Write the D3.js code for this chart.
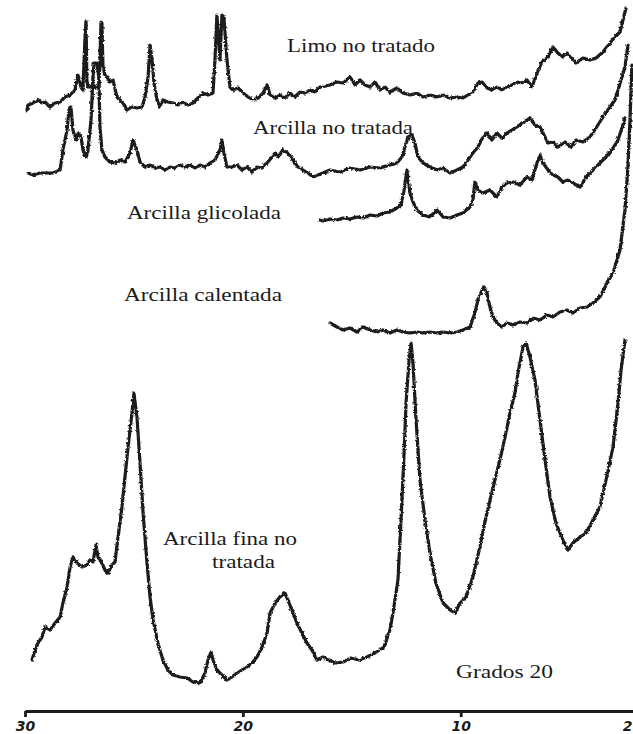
<!DOCTYPE html>
<html>
<head>
<meta charset="utf-8">
<script src="https://cdn.jsdelivr.net/npm/d3@7"></script>
<style>
  html, body { margin: 0; padding: 0; background: #fff; }
  svg { display: block; }
  .trace { fill: none; stroke: #1b1b1b; stroke-width: 3.2; stroke-linejoin: round; stroke-linecap: round; }
  .lbl { font-family: "Liberation Serif", "DejaVu Serif", serif; font-size: 19px; fill: #1b1b1b; }
  .axis path, .axis line { stroke: #1b1b1b; stroke-width: 2.8; }
  .axis text { font-family: "DejaVu Sans", sans-serif; font-weight: bold; font-style: italic; font-size: 14px; fill: #1b1b1b; }
</style>
</head>
<body>
<svg id="chart" width="633" height="734"></svg>
<script>
// 2θ (grados) vs intensidad relativa sobre la línea base de cada muestra
const limo = [
  [29.91,1],[29.86,6],[29.63,8],[29.40,11],[29.22,8],[29.08,9],[28.85,4],[28.62,8],[28.39,9],
  [28.16,14],[27.93,16],[27.71,21],[27.57,36],[27.43,24],[27.34,21],[27.25,71],[27.20,90],
  [27.16,31],[27.11,24],[27.02,24],[26.88,26],[26.74,23],[26.61,25],[26.56,51],[26.51,89],
  [26.47,88],[26.42,44],[26.33,36],[26.24,34],[26.10,29],[25.96,31],[25.78,14],[25.64,11],
  [25.50,8],[25.32,1],[25.09,4],[24.86,3],[24.63,4],[24.49,14],[24.35,34],[24.26,66],[24.17,51],
  [24.08,28],[23.94,11],[23.80,4],[23.67,11],[23.44,9],[23.21,8],[22.98,6],[22.75,9],[22.52,6],
  [22.29,8],[22.06,13],[21.83,18],[21.60,16],[21.37,18],[21.28,51],[21.19,96],[21.05,51],
  [20.96,96],[20.87,94],[20.73,51],[20.59,24],[20.45,21],[20.22,23],[19.99,18],[19.76,14],
  [19.53,11],[19.30,13],[19.07,18],[18.89,26],[18.75,16],[18.52,13],[18.30,16],[18.07,13],
  [17.84,18],[17.61,14],[17.38,19],[17.15,18],[16.92,21],[16.69,19],[16.46,24],[16.00,26],
  [15.68,29],[15.40,28],[15.08,34],[14.85,26],[14.62,31],[14.39,26],[14.16,24],[13.94,29],
  [13.70,21],[13.48,24],[13.25,19],[12.93,23],[12.65,18],[12.33,16],[12.01,18],[11.73,14],
  [11.41,16],[11.09,14],[10.81,16],[10.49,13],[10.17,14],[9.90,13],[9.67,16],[9.44,19],
  [9.21,28],[9.02,29],[8.79,23],[8.57,21],[8.34,24],[8.11,21],[7.88,24],[7.65,26],[7.42,29],
  [7.19,28],[6.96,31],[6.73,24],[6.50,38],[6.27,49],[6.04,53],[5.90,58],[5.77,64],[5.58,59],
  [5.35,54],[5.12,58],[4.89,53],[4.71,48],[4.39,53],[4.07,51],[3.79,53],[3.47,59],[3.15,68],
  [2.92,74],[2.69,79],[2.46,99],[2.41,103]
];

const arcilla = [
  [29.86,3],[29.63,1],[29.31,3],[28.99,3],[28.72,3],[28.39,6],[28.26,26],[28.07,46],[27.98,66],
  [27.89,69],[27.80,46],[27.66,36],[27.57,43],[27.43,39],[27.34,26],[27.20,19],[27.11,26],
  [26.97,56],[26.88,99],[26.83,113],[26.70,113],[26.61,99],[26.56,49],[26.47,26],[26.33,19],
  [26.10,14],[25.87,13],[25.64,16],[25.41,14],[25.18,23],[25.04,36],[24.86,26],[24.72,14],
  [24.49,9],[24.26,11],[24.03,8],[23.80,9],[23.57,6],[23.35,9],[23.12,8],[22.89,11],[22.66,9],
  [22.43,11],[22.20,8],[21.97,11],[21.74,9],[21.51,13],[21.28,16],[21.05,26],[20.96,36],
  [20.87,23],[20.73,9],[20.50,9],[20.27,11],[20.04,6],[19.81,9],[19.58,4],[19.35,9],[19.12,8],
  [18.89,13],[18.66,19],[18.52,23],[18.39,19],[18.16,26],[17.93,23],[17.70,16],[17.47,9],
  [17.24,6],[17.01,3],[16.78,-1],[16.55,1],[16.32,3],[16.00,6],[15.54,4],[15.08,8],[14.62,6],
  [14.16,9],[13.70,8],[13.25,11],[12.93,13],[12.70,19],[12.56,29],[12.42,39],[12.24,41],
  [12.10,33],[11.96,19],[11.73,13],[11.41,9],[11.09,6],[10.81,8],[10.49,3],[10.17,6],[9.90,9],
  [9.67,16],[9.44,23],[9.21,29],[8.98,39],[8.79,43],[8.57,36],[8.34,43],[8.11,38],[7.88,43],
  [7.65,46],[7.42,49],[7.19,53],[6.96,56],[6.82,58],[6.59,51],[6.36,49],[6.13,39],[5.99,33],
  [5.77,34],[5.54,29],[5.21,34],[4.94,29],[4.71,36],[4.39,34],[4.07,39],[3.79,48],[3.47,59],
  [3.15,69],[2.92,76],[2.78,86],[2.64,96],[2.46,109],[2.32,131]
];

const glicolada = [
  [16.46,1],[16.32,0],[16.00,2],[15.68,1],[15.40,3],[15.08,2],[14.76,4],[14.49,3],[14.16,6],
  [13.84,5],[13.57,8],[13.25,9],[12.93,13],[12.74,16],[12.60,31],[12.47,51],[12.33,28],
  [12.19,19],[12.01,11],[11.73,6],[11.41,4],[11.09,11],[10.81,4],[10.49,3],[10.17,6],[9.90,8],
  [9.57,14],[9.44,21],[9.35,39],[9.21,31],[8.98,28],[8.66,31],[8.34,24],[8.11,34],[7.88,38],
  [7.60,39],[7.28,36],[6.96,44],[6.73,41],[6.50,58],[6.36,66],[6.22,58],[5.99,51],[5.77,46],
  [5.54,44],[5.31,39],[5.08,41],[4.85,38],[4.52,34],[4.25,44],[3.93,51],[3.61,58],[3.33,64],
  [3.01,73],[2.78,81],[2.60,93],[2.46,103]
];

const calentada = [
  [16.00,13],[15.68,9],[15.40,6],[15.08,8],[14.76,4],[14.49,9],[14.16,6],[13.84,4],[13.57,6],
  [13.25,3],[12.93,6],[12.65,4],[12.33,3],[12.01,4],[11.73,3],[11.41,4],[11.09,3],[10.81,4],
  [10.49,3],[10.17,4],[9.90,6],[9.57,9],[9.35,23],[9.21,36],[9.02,46],[8.93,49],[8.79,43],
  [8.66,29],[8.52,19],[8.34,13],[8.11,9],[7.88,13],[7.60,11],[7.28,14],[6.96,13],[6.68,18],
  [6.36,16],[6.04,21],[5.77,19],[5.44,24],[5.12,26],[4.85,23],[4.52,28],[4.20,29],[3.93,33],
  [3.61,39],[3.28,53],[3.01,63],[2.69,86],[2.46,126],[2.32,171],[2.23,216],[2.14,271]
];

const fina = [
  [29.68,26],[29.54,36],[29.40,43],[29.22,49],[29.08,59],[28.85,56],[28.62,63],[28.39,69],
  [28.26,83],[28.07,99],[27.93,119],[27.80,129],[27.61,123],[27.38,119],[27.16,121],[27.02,126],
  [26.88,124],[26.74,141],[26.65,129],[26.47,123],[26.33,116],[26.19,113],[26.01,121],
  [25.87,124],[25.73,149],[25.55,179],[25.41,209],[25.27,239],[25.09,273],[25.00,293],
  [24.86,269],[24.72,223],[24.58,173],[24.40,123],[24.26,89],[24.12,66],[23.90,43],[23.67,26],
  [23.44,16],[23.21,11],[22.89,9],[22.56,8],[22.29,4],[21.97,3],[21.74,13],[21.60,26],
  [21.46,34],[21.37,26],[21.19,16],[20.96,11],[20.73,6],[20.50,9],[20.27,13],[20.04,16],
  [19.81,19],[19.58,23],[19.35,29],[19.12,39],[18.89,53],[18.75,73],[18.52,83],[18.30,89],
  [18.07,93],[17.93,86],[17.75,76],[17.52,63],[17.29,53],[17.06,43],[16.83,36],[16.60,26],
  [16.32,29],[15.77,23],[15.40,24],[15.04,28],[14.67,26],[14.30,29],[13.94,33],[13.52,39],
  [13.25,56],[13.11,73],[12.88,106],[12.74,166],[12.60,233],[12.51,283],[12.37,326],[12.28,343],
  [12.19,323],[12.05,266],[11.87,206],[11.64,166],[11.41,133],[11.14,103],[10.81,83],[10.49,76],
  [10.26,73],[10.03,83],[9.76,89],[9.44,109],[9.12,139],[8.84,169],[8.43,206],[8.06,239],
  [7.74,273],[7.51,293],[7.37,313],[7.14,339],[7.00,343],[6.82,329],[6.59,306],[6.36,266],
  [6.13,226],[5.90,189],[5.63,163],[5.31,146],[5.08,136],[4.85,143],[4.52,149],[4.25,153],
  [3.93,166],[3.61,179],[3.33,206],[3.01,239],[2.78,283],[2.64,316],[2.46,346]
];

const offsets = [600, 535, 490, 375, 25];
const tickValues = [30, 20, 10, 2];
const axisLabel = "Grados 20";

const series = [
  { data: limo, offset: offsets[0], name: "Limo no tratado", lines: [{ x: 287, y: 52, w: 148 }] },
  { data: arcilla, offset: offsets[1], name: "Arcilla no tratada", lines: [{ x: 253, y: 134, w: 160 }] },
  { data: glicolada, offset: offsets[2], name: "Arcilla glicolada", lines: [{ x: 127, y: 219, w: 154 }] },
  { data: calentada, offset: offsets[3], name: "Arcilla calentada", lines: [{ x: 124, y: 301, w: 158 }] },
  { data: fina, offset: offsets[4], name: ["Arcilla fina no", "tratada"],
    lines: [{ x: 163, y: 545, w: 134 }, { x: 212, y: 568, w: 63 }] },
];

const svg = d3.select("#chart");
const width = +svg.attr("width");
const height = +svg.attr("height");

// rough pen look of the recorder trace
const rough = svg.append("defs").append("filter")
  .attr("id", "rough").attr("x", "-2%").attr("y", "-2%").attr("width", "104%").attr("height", "104%");
rough.append("feTurbulence")
  .attr("type", "fractalNoise").attr("baseFrequency", 0.45).attr("numOctaves", 2)
  .attr("seed", 3).attr("result", "noise");
rough.append("feDisplacementMap")
  .attr("in", "SourceGraphic").attr("in2", "noise").attr("scale", 3)
  .attr("xChannelSelector", "R").attr("yChannelSelector", "G");

const x = d3.scaleLinear().domain([30, 2]).range([25, 635]);
const y = d3.scaleLinear().domain([0, 700]).range([711, 11]);

svg.append("rect").attr("width", width).attr("height", height).attr("fill", "#fff");

for (const s of series) {
  const line = d3.line()
    .x((d) => x(d[0]))
    .y((d) => y(d[1] + s.offset));
  svg.append("path").attr("class", "trace").attr("filter", "url(#rough)").attr("d", line(s.data));

  const names = Array.isArray(s.name) ? s.name : [s.name];
  names.forEach((t, i) => {
    const p = s.lines[i];
    svg.append("text")
      .attr("class", "lbl")
      .attr("x", p.x)
      .attr("y", p.y)
      .attr("textLength", p.w)
      .attr("lengthAdjust", "spacingAndGlyphs")
      .text(t);
  });
}

svg.append("text")
  .attr("class", "lbl")
  .attr("x", 456)
  .attr("y", 678)
  .attr("textLength", 97)
  .attr("lengthAdjust", "spacingAndGlyphs")
  .text(axisLabel);

const xAxis = d3.axisBottom(x).tickValues(tickValues).tickSize(6).tickSizeOuter(0).tickPadding(4);
const gx = svg.append("g")
  .attr("class", "axis")
  .attr("transform", `translate(0, ${y(0)})`)
  .call(xAxis);

// keep the last label inside the frame
gx.selectAll(".tick text")
  .filter((d) => d === 2)
  .attr("text-anchor", "end")
  .attr("x", width - x(2) - 1);
</script>
</body>
</html>
